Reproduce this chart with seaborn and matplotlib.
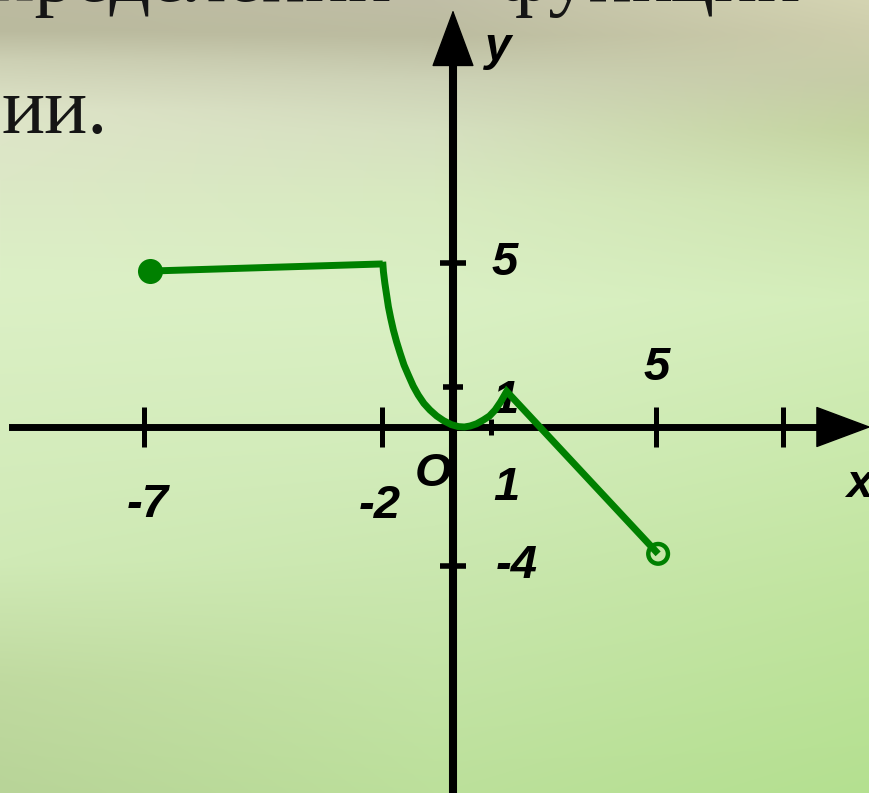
import numpy as np
import matplotlib
matplotlib.use("Agg")
import matplotlib.pyplot as plt
import seaborn as sns
import pandas as pd

# ---------------- data ----------------
plateau_x = [-6.87, -1.98]
plateau_y = [4.74, 4.97]

curve_x = [-1.98, -1.96, -1.92, -1.87, -1.82, -1.755, -1.68, -1.59, -1.49, -1.38,
           -1.26, -1.12, -0.98, -0.82, -0.65, -0.46, -0.27, -0.05, 0.14, 0.30,
           0.45, 0.62, 0.80, 0.96, 1.10, 1.235, 1.38, 5.05]
curve_y = [5.04, 4.72, 4.35, 3.97, 3.59, 3.22, 2.84, 2.46, 2.09, 1.71,
           1.39, 1.03, 0.80, 0.59, 0.425, 0.275, 0.16, 0.06, 0.01, 0.0,
           0.025, 0.08, 0.175, 0.275, 0.425, 0.63, 0.89, -3.65]

closed_pt = (plateau_x[0], plateau_y[0])   # filled end point
open_pt = (curve_x[-1], curve_y[-1])       # open end point

x_major_ticks = [-7, -2, 5, 8]
x_minor_ticks = [1]
y_major_ticks = [-4, 5]
y_minor_ticks = [1]

x_tick_labels = {-7: "-7", -2: "-2", 1: "1", 5: "5"}
y_tick_labels = {5: "5", 1: "1", -4: "-4"}

title_line1_left = "определении"
title_line1_right = "функции"
title_line2 = "ии."

# ---------------- style ----------------
sns.set_theme(style="white")
plt.rcParams["font.family"] = ["Liberation Sans", "DejaVu Sans"]

W, H, DPI = 870, 793, 100
fig = plt.figure(figsize=(W / DPI, H / DPI), dpi=DPI)

# blurred slide-like background
def column(stops):
    ys = [s[0] for s in stops]
    cols = np.array([s[1] for s in stops], dtype=float)
    yy = np.arange(H)
    return np.stack([np.interp(yy, ys, cols[:, k]) for k in range(3)], axis=1)

left_stops = [(0, (188, 186, 160)), (30, (186, 186, 158)), (60, (205, 208, 180)),
              (110, (222, 228, 200)), (180, (220, 232, 198)), (280, (220, 240, 198)),
              (420, (214, 237, 190)), (560, (208, 234, 182)), (680, (192, 218, 160)),
              (793, (184, 212, 152))]
mid_stops = [(0, (192, 190, 166)), (35, (188, 188, 160)), (80, (205, 210, 182)),
             (130, (214, 224, 192)), (200, (216, 234, 192)), (300, (218, 240, 196)),
             (450, (210, 236, 186)), (600, (200, 230, 172)), (793, (188, 224, 155))]
right_stops = [(0, (212, 212, 178)), (30, (206, 206, 172)), (80, (198, 204, 166)),
               (130, (196, 212, 160)), (200, (206, 228, 176)), (300, (212, 238, 186)),
               (450, (202, 233, 172)), (600, (192, 228, 158)), (793, (180, 224, 144))]
cl, cm, cr = column(left_stops), column(mid_stops), column(right_stops)
xx = np.linspace(0, 1, W)
wl = np.clip(1 - 2 * xx, 0, 1)[None, :, None]
wr = np.clip(2 * xx - 1, 0, 1)[None, :, None]
wm = 1 - wl - wr
img = (cl[:, None, :] * wl + cm[:, None, :] * wm + cr[:, None, :] * wr) / 255.0

bg = fig.add_axes([0, 0, 1, 1], zorder=0)
bg.imshow(img, aspect="auto", extent=[0, W, H, 0], interpolation="bilinear")
bg.axis("off")

# slide text
txt_kw = dict(fontsize=58, family=["Liberation Serif", "DejaVu Serif"], color="#151515")
fig.text(392 / W, (H - 1) / H, title_line1_left, ha="right", va="baseline", **txt_kw)
fig.text(498 / W, (H - 1) / H, title_line1_right, ha="left", va="baseline", **txt_kw)
fig.text(108 / W, (H - 133) / H, title_line2, ha="right", va="baseline", **txt_kw)

# ---------------- chart axes ----------------
ax = fig.add_axes([0, 0, 1, 1], zorder=1)
ax.patch.set_alpha(0)

XK_D = [-12, -7, -2, 0, 1, 5, 8, 12]
XK_P = [144 - 5 * 47.6, 144, 382, 453, 491, 656, 783, 783 + 4 * 42.33]
YK_D = [-12, -4, 0, 1, 5, 16]
YK_P = [227 - 8 * 34.75, 227, 366, 406, 530, 530 + 11 * 31]

def fx(v):
    return np.interp(v, XK_D, XK_P)

def ifx(p):
    return np.interp(p, XK_P, XK_D)

def fy(v):
    return np.interp(v, YK_D, YK_P)

def ify(p):
    return np.interp(p, YK_P, YK_D)

ax.set_xscale("function", functions=(fx, ifx))
ax.set_yscale("function", functions=(fy, ify))
ax.set_xlim(ifx(0), ifx(W))
ax.set_ylim(ify(0), ify(H))

# ---------------- the function graph ----------------
green = "#008000"
df_plateau = pd.DataFrame({"x": plateau_x, "y": plateau_y})
df_curve = pd.DataFrame({"x": curve_x, "y": curve_y})
sns.lineplot(data=df_plateau, x="x", y="y", sort=False, estimator=None, ax=ax,
             color=green, lw=5.0, zorder=5, solid_capstyle="butt")
sns.lineplot(data=df_curve, x="x", y="y", sort=False, estimator=None, ax=ax,
             color=green, lw=5.0, zorder=5, solid_joinstyle="miter",
             solid_capstyle="butt")
ax.scatter([closed_pt[0]], [closed_pt[1]], s=325, color=green, zorder=6, linewidths=0)
ax.scatter([open_pt[0]], [open_pt[1]], s=200, facecolors="none", edgecolors=green,
           linewidths=3.2, zorder=6)

ax.set_xlim(ifx(0), ifx(W))
ax.set_ylim(ify(0), ify(H))
ax.set_xlabel("")
ax.set_ylabel("")

# ---------------- axes lines, ticks ----------------
for s in ["top", "right"]:
    ax.spines[s].set_visible(False)
ax.spines["bottom"].set_position(("data", 0))
ax.spines["left"].set_position(("data", 0))
ax.spines["bottom"].set_bounds(ifx(12), ifx(825))
ax.spines["left"].set_bounds(ify(0), ify(H - 60))
ax.spines["bottom"].set_linewidth(5.0)
ax.spines["left"].set_linewidth(5.8)
ax.spines["bottom"].set_color("black")
ax.spines["left"].set_color("black")

ax.set_xticks(x_major_ticks)
ax.set_xticks(x_minor_ticks, minor=True)
ax.set_yticks(y_major_ticks)
ax.set_yticks(y_minor_ticks, minor=True)
ax.tick_params(axis="both", which="both", bottom=True, left=True, top=False, right=False,
               labelbottom=False, labelleft=False, color="black")
ax.tick_params(axis="x", which="major", direction="inout", length=29, width=3.6)
ax.tick_params(axis="x", which="minor", direction="inout", length=11.5, width=3.6)
ax.tick_params(axis="y", which="major", direction="inout", length=19, width=4.0)
ax.tick_params(axis="y", which="minor", direction="inout", length=14, width=4.0)

# arrow heads
ax.annotate("", xy=(871, 0), xytext=(818, 0), xycoords=("figure pixels", "data"),
            textcoords=("figure pixels", "data"),
            arrowprops=dict(arrowstyle="-|>,head_length=37.5,head_width=14",
                            mutation_scale=1, lw=1, color="black",
                            shrinkA=0, shrinkB=0))
ax.annotate("", xy=(0, H - 10), xytext=(0, H - 65), xycoords=("data", "figure pixels"),
            textcoords=("data", "figure pixels"),
            arrowprops=dict(arrowstyle="-|>,head_length=38.5,head_width=14.3",
                            mutation_scale=1, lw=1, color="black",
                            shrinkA=0, shrinkB=0))

# labels
lab_kw = dict(fontsize=34, fontweight="bold", fontstyle="italic", color="black",
              ha="center", va="baseline", zorder=3)
x_offsets = {-7: (4, -90), -2: (-2, -91), 1: (15, -73), 5: (1, 47)}
for v, s in x_tick_labels.items():
    ax.annotate(s, xy=(v, 0), xycoords="data", xytext=x_offsets[v],
                textcoords="offset pixels", **lab_kw)
y_offsets = {5: (52, -12), 1: (52, -26), -4: (64, -12)}
for v, s in y_tick_labels.items():
    ax.annotate(s, xy=(0, v), xycoords="data", xytext=y_offsets[v],
                textcoords="offset pixels", **lab_kw)
ax.annotate("O", xy=(0, 0), xycoords="data", xytext=(-20, -59),
            textcoords="offset pixels", **lab_kw)
ax.annotate("x", xy=(859, H - 497), xycoords="figure pixels", **lab_kw)
ax.annotate("y", xy=(498, H - 60), xycoords="figure pixels", **lab_kw)

fig.savefig("out.png", dpi=DPI)
